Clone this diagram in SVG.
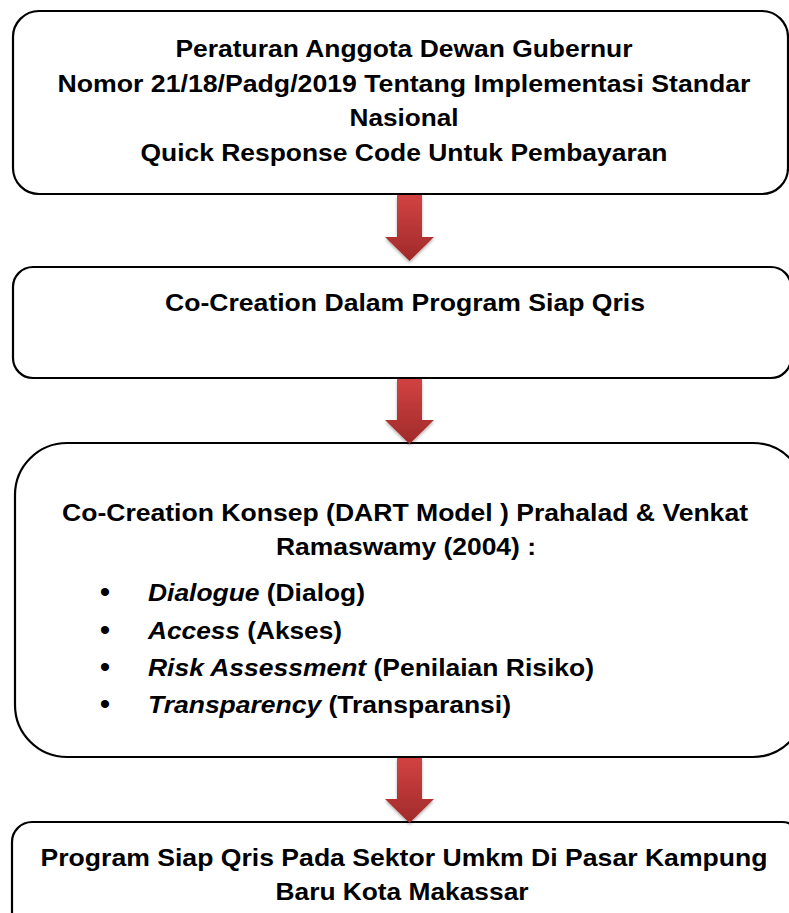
<svg xmlns="http://www.w3.org/2000/svg" width="789" height="913" viewBox="0 0 789 913">
  <style>
    .box { fill: #ffffff; stroke: #000000; stroke-width: 2.2; }
    .t { font-family: "Liberation Sans", Arial, sans-serif; font-weight: bold; font-size: 24px; fill: #000000; }
    .c { text-anchor: middle; }
    .i { font-style: italic; }
    .b { font-family: "Liberation Sans", Arial, sans-serif; font-size: 30px; fill: #000000; text-anchor: middle; }
    .arrow { fill: url(#redGrad); filter: url(#shadow); }
  </style>
  <defs>
    <linearGradient id="redGrad" x1="0" y1="0" x2="0" y2="1">
      <stop offset="0" stop-color="#d24242"/>
      <stop offset="1" stop-color="#a02a2a"/>
    </linearGradient>
    <filter id="shadow" x="-50%" y="-20%" width="200%" height="150%">
      <feDropShadow dx="0" dy="2" stdDeviation="1.5" flood-color="#000000" flood-opacity="0.3"/>
    </filter>
  </defs>

  <g id="node1">
    <rect class="box" x="13" y="11" width="775" height="183" rx="26" ry="26"/>
    <text class="t c" x="404" y="57" textLength="457" lengthAdjust="spacingAndGlyphs">Peraturan Anggota Dewan Gubernur</text>
    <text class="t c" x="404" y="92" textLength="693" lengthAdjust="spacingAndGlyphs">Nomor 21/18/Padg/2019 Tentang Implementasi Standar</text>
    <text class="t c" x="404" y="126" textLength="109" lengthAdjust="spacingAndGlyphs">Nasional</text>
    <text class="t c" x="404" y="161" textLength="527" lengthAdjust="spacingAndGlyphs">Quick Response Code Untuk Pembayaran</text>
  </g>

  <g id="node2">
    <rect class="box" x="13" y="267" width="778" height="111" rx="20" ry="20"/>
    <text class="t c" x="405" y="311" textLength="480" lengthAdjust="spacingAndGlyphs">Co-Creation Dalam Program Siap Qris</text>
  </g>

  <g id="node3">
    <rect class="box" x="15" y="443" width="790" height="314" rx="52" ry="52"/>
    <text class="t c" x="405" y="521" textLength="686" lengthAdjust="spacingAndGlyphs">Co-Creation Konsep (DART Model ) Prahalad &amp; Venkat</text>
    <text class="t c" x="406" y="555" textLength="260" lengthAdjust="spacingAndGlyphs">Ramaswamy (2004) :</text>
    <text class="b" x="105" y="602">•</text>
    <text class="b" x="105" y="640">•</text>
    <text class="b" x="105" y="677">•</text>
    <text class="b" x="105" y="714">•</text>
    <text class="t" x="148" y="601" textLength="217" lengthAdjust="spacingAndGlyphs"><tspan class="i">Dialogue</tspan> (Dialog)</text>
    <text class="t" x="148" y="639" textLength="194" lengthAdjust="spacingAndGlyphs"><tspan class="i">Access</tspan> (Akses)</text>
    <text class="t" x="148" y="676" textLength="446" lengthAdjust="spacingAndGlyphs"><tspan class="i">Risk Assessment</tspan> (Penilaian Risiko)</text>
    <text class="t" x="148" y="713" textLength="363" lengthAdjust="spacingAndGlyphs"><tspan class="i">Transparency</tspan> (Transparansi)</text>
  </g>

  <g id="node4">
    <rect class="box" x="12" y="822" width="790" height="120" rx="20" ry="20"/>
    <text class="t c" x="404" y="866" textLength="727" lengthAdjust="spacingAndGlyphs">Program Siap Qris Pada Sektor Umkm Di Pasar Kampung</text>
    <text class="t c" x="402" y="900" textLength="253" lengthAdjust="spacingAndGlyphs">Baru Kota Makassar</text>
  </g>

  <g id="connectors">
    <path class="arrow" d="M397,195 H422 V237 H434 L409.5,261 L385,237 H397 Z"/>
    <path class="arrow" d="M397,379 H422 V420 H434 L409.5,444 L385,420 H397 Z"/>
    <path class="arrow" d="M397,758 H422 V799 H434 L409.5,823 L385,799 H397 Z"/>
  </g>
</svg>
